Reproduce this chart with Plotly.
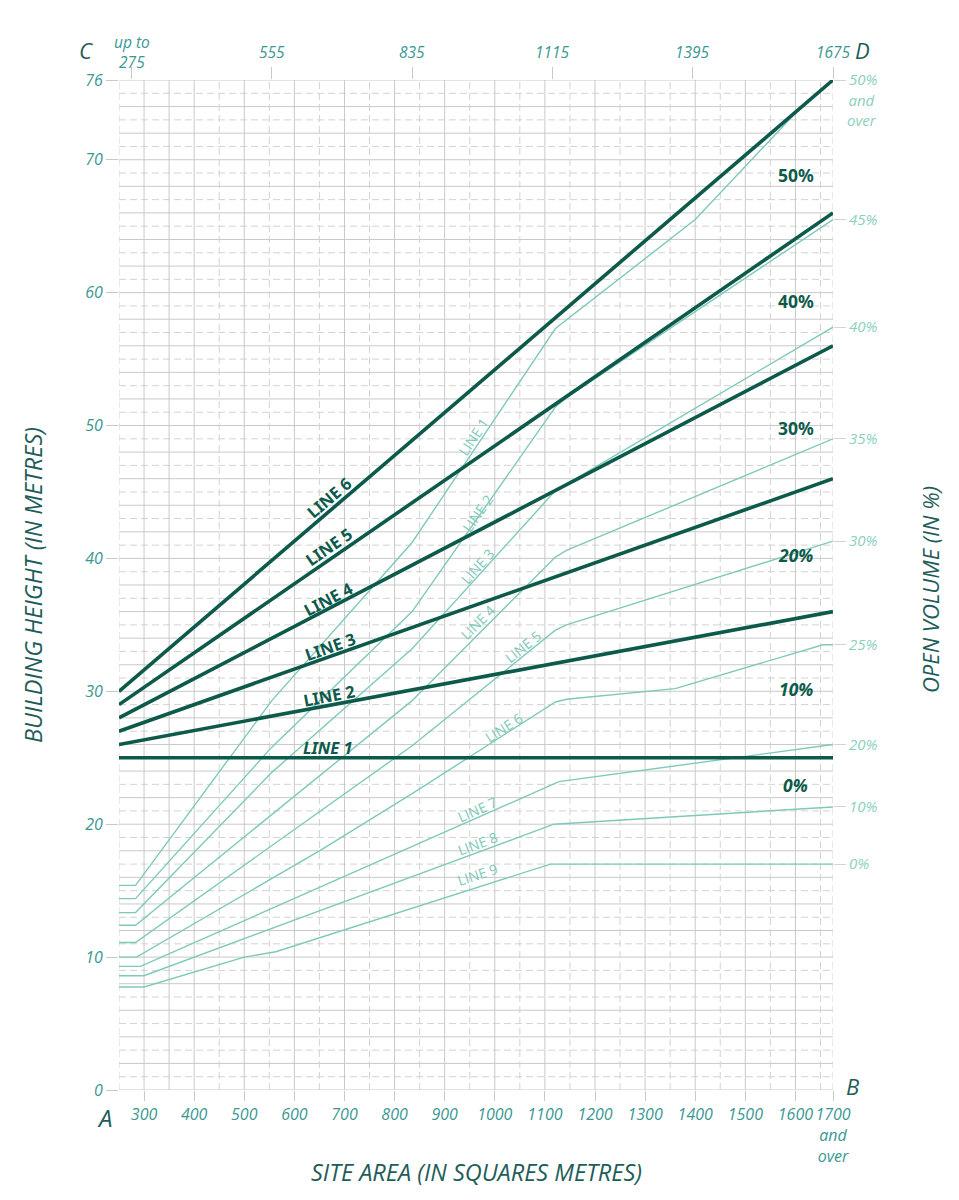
import math
import plotly.graph_objects as go

# ---------------- data ----------------
thick_names = ["LINE 1", "LINE 2", "LINE 3", "LINE 4", "LINE 5", "LINE 6"]
thick_x = [250, 1675]
thick_y = [[25, 25], [26, 36], [27, 46], [28, 56], [29, 66], [30, 76]]

thin_names = ["LINE 1", "LINE 2", "LINE 3", "LINE 4", "LINE 5",
              "LINE 6", "LINE 7", "LINE 8", "LINE 9"]
thin_x = [
    [250, 283, 555, 835, 1121, 1400, 1605, 1675],
    [250, 283, 555, 835, 1121, 1143, 1675],
    [250, 283, 555, 835, 1121, 1675],
    [250, 283, 835, 1121, 1143, 1675],
    [250, 283, 835, 1121, 1143, 1675],
    [250, 285, 655, 835, 1121, 1143, 1360, 1655, 1675],
    [250, 293, 1128, 1675],
    [250, 300, 1118, 1675],
    [250, 300, 500, 563, 1111, 1675],
]
thin_y = [
    [15.4, 15.4, 29.3, 41.2, 57.3, 65.5, 73.7, 76.0],
    [14.4, 14.4, 25.8, 36.0, 51.4, 52.1, 65.5],
    [13.35, 13.35, 23.9, 33.2, 45.1, 57.4],
    [12.4, 12.4, 29.3, 40.1, 40.6, 49.0],
    [11.1, 11.1, 25.9, 34.6, 35.0, 41.3],
    [10.0, 10.0, 18.1, 22.3, 29.2, 29.4, 30.2, 33.5, 33.5],
    [9.3, 9.3, 23.2, 26.0],
    [8.6, 8.6, 20.0, 21.3],
    [7.75, 7.75, 10.0, 10.4, 17.0, 17.0],
]

bottom_vals = [300, 400, 500, 600, 700, 800, 900, 1000, 1100, 1200, 1300,
               1400, 1500, 1600, 1675]
bottom_text = ["300", "400", "500", "600", "700", "800", "900", "1000", "1100",
               "1200", "1300", "1400", "1500", "1600", "1700<br>and<br>over"]
top_vals = [275, 555, 835, 1115, 1395, 1675]
top_text = ["up to<br>275", "555", "835", "1115", "1395", "1675"]
left_vals = [0, 10, 20, 30, 40, 50, 60, 70, 76]
left_text = ["0", "10", "20", "30", "40", "50", "60", "70", "76"]
right_text = ["50%", "45%", "40%", "35%", "30%", "25%", "20%", "10%", "0%"]
zone_text = ["50%", "40%", "30%", "20%", "10%", "0%"]

# ---------------- layout / style ----------------
W, H = 959, 1200
L, R, T, B = 119, 126, 80, 110
X0, X1, Y0, Y1 = 250, 1675, 0, 76
pw, ph = W - L - R, H - T - B
sx, sy = pw / (X1 - X0), ph / (Y1 - Y0)

FONT = "Open Sans"
BOLD = "Noto Sans"
DARK = "#0d5a4b"
THIN = "#7ec9b9"
TICK = "#3a9893"
RTICK = "#8ccfc0"
TITLE = "#1e5d59"
GRID = "#c9c9c9"
DGRID = "#d3d3d3"

# label placement (layout)
thin_label_pos = [(958, 49.16), (965, 43.4), (965, 39.4), (965, 35.2), (1056, 33.4),
                  (1018, 27.3), (965, 21.07), (966, 18.56), (965, 16.18)]
thick_label_pos = [(667, 25.76), (669, 29.7), (671, 33.4), (669, 36.98),
                   (669, 40.86), (669, 44.58)]
zone_label_pos = [(1601, 68.85), (1601, 59.37), (1601, 49.8), (1601, 40.26),
                  (1601, 30.17), (1601, 22.95)]


def slope_at(xs, ys, x):
    for i in range(len(xs) - 1):
        if xs[i] <= x <= xs[i + 1]:
            return (ys[i + 1] - ys[i]) / (xs[i + 1] - xs[i])
    return 0.0


def ang(s):
    return math.degrees(math.atan(s * sy / sx))


def paper(px, py):
    return (px - L) / pw, (H - B - py) / ph


fig = go.Figure()
for xs, ys, nm in zip(thin_x, thin_y, thin_names):
    fig.add_trace(go.Scatter(x=xs, y=ys, mode="lines", name=nm,
                             line=dict(color=THIN, width=1.4),
                             hoverinfo="skip", showlegend=False))
for ys, nm in zip(thick_y, thick_names):
    fig.add_trace(go.Scatter(x=thick_x, y=ys, mode="lines", name=nm,
                             line=dict(color=DARK, width=3.6),
                             hoverinfo="skip", showlegend=False))
# helper trace for secondary axes
fig.add_trace(go.Scatter(x=[X0, X1], y=[Y0, Y1], xaxis="x2", yaxis="y2",
                         mode="markers", marker=dict(opacity=0),
                         hoverinfo="skip", showlegend=False))

# ---------------- grid ----------------
shapes = []
for v in range(Y0, Y1 + 1):
    solid = v % 2 == 0
    shapes.append(dict(type="line", xref="x", yref="y", x0=X0, x1=X1, y0=v, y1=v,
                       layer="below",
                       line=dict(color=GRID if solid else DGRID, width=1,
                                 dash="solid" if solid else "7px,4px")))
solid_x = [300, 350] + list(range(400, 1601, 100))
dash_x = [250] + list(range(450, 1651, 100)) + [1675]
for v in solid_x:
    shapes.append(dict(type="line", xref="x", yref="y", x0=v, x1=v, y0=Y0, y1=Y1,
                       layer="below", line=dict(color=GRID, width=1)))
for v in dash_x:
    shapes.append(dict(type="line", xref="x", yref="y", x0=v, x1=v, y0=Y0, y1=Y1,
                       layer="below", line=dict(color=DGRID, width=1, dash="7px,4px")))

# ---------------- annotations ----------------
ann = []
for (lx, ly), xs, ys, nm in zip(thin_label_pos, thin_x, thin_y, thin_names):
    a = ang(slope_at(xs, ys, lx))
    ann.append(dict(x=lx, y=ly, xref="x", yref="y", text=nm, showarrow=False,
                    textangle=-a, font=dict(family=FONT, size=14, color=THIN)))
for i, ((lx, ly), ys, nm) in enumerate(zip(thick_label_pos, thick_y, thick_names)):
    a = ang(slope_at(thick_x, ys, lx))
    ann.append(dict(x=lx, y=ly, xref="x", yref="y", text=nm, showarrow=False,
                    textangle=-a,
                    font=dict(family=BOLD, size=16.5, color=DARK, weight="bold",
                              style="italic" if i == 0 else "normal")))
for i, ((lx, ly), t) in enumerate(zip(zone_label_pos, zone_text)):
    ann.append(dict(x=lx, y=ly, xref="x", yref="y", text=t, showarrow=False,
                    font=dict(family=BOLD, size=17.5, color=DARK, weight="bold",
                              style="normal" if i < 3 else "italic")))
# top labels
for v, t in zip(top_vals, top_text):
    ann.append(dict(x=v, y=1, xref="x", yref="paper", yshift=28.5, text=t,
                    showarrow=False, yanchor="middle",
                    font=dict(family=FONT, size=15.5, color=TICK, style="italic")))
# "and over" under right 50%
ann.append(dict(x=1, y=thin_y[0][-1], xref="paper", yref="y", xshift=29, yshift=-30,
                text="and<br>over", showarrow=False, xanchor="center", yanchor="middle",
                font=dict(family=FONT, size=15, color=RTICK, style="italic")))
# corner letters
for t, px, py, sz in [("C", 86, 50, 22), ("D", 862, 50, 22), ("A", 104, 1117, 24),
                      ("B", 853, 1086, 22)]:
    xp, yp = paper(px, py)
    ann.append(dict(x=xp, y=yp, xref="paper", yref="paper", text=t, showarrow=False,
                    xanchor="center", yanchor="middle",
                    font=dict(family=FONT, size=sz, color=TITLE, style="italic")))
# axis titles
for t, px, py, rot, sz in [("BUILDING HEIGHT (IN METRES)", 33, 585, -90, 23.5),
                           ("SITE AREA (IN SQUARES METRES)", 476, 1172, 0, 23.5),
                           ("OPEN VOLUME (IN %)", 930, 590, -90, 22)]:
    xp, yp = paper(px, py)
    ann.append(dict(x=xp, y=yp, xref="paper", yref="paper", text=t, showarrow=False,
                    xanchor="center", yanchor="middle", textangle=rot,
                    font=dict(family=FONT, size=sz, color=TITLE, style="italic")))

tickfont = dict(family=FONT, size=16, color=TICK, style="italic")
fig.update_layout(
    width=W, height=H, margin=dict(l=L, r=R, t=T, b=B, autoexpand=False),
    paper_bgcolor="white", plot_bgcolor="white", showlegend=False,
    shapes=shapes, annotations=ann,
    xaxis=dict(range=[X0, X1], tickmode="array", tickvals=bottom_vals,
               ticktext=bottom_text, ticks="outside", ticklen=10, tickcolor=GRID,
               showgrid=False, zeroline=False, showline=False, tickfont=tickfont,
               fixedrange=True),
    xaxis2=dict(range=[X0, X1], overlaying="x", side="top", tickmode="array",
                tickvals=top_vals, ticks="outside", ticklen=12, tickcolor=GRID,
                showticklabels=False, showgrid=False, zeroline=False, showline=False,
                fixedrange=True),
    yaxis=dict(range=[Y0, Y1], tickmode="array", tickvals=left_vals,
               ticktext=left_text, ticks="outside", ticklen=12, tickcolor=GRID,
               showgrid=False, zeroline=False, showline=False, tickfont=tickfont,
               fixedrange=True),
    yaxis2=dict(range=[Y0, Y1], overlaying="y", side="right", tickmode="array",
                tickvals=[ys[-1] for ys in thin_y], ticktext=right_text,
                ticks="outside", ticklen=12, tickcolor="#d3d3d3",
                showgrid=False, zeroline=False, showline=False,
                tickfont=dict(family=FONT, size=15, color=RTICK, style="italic"),
                fixedrange=True),
)

fig.write_html("out.html")
